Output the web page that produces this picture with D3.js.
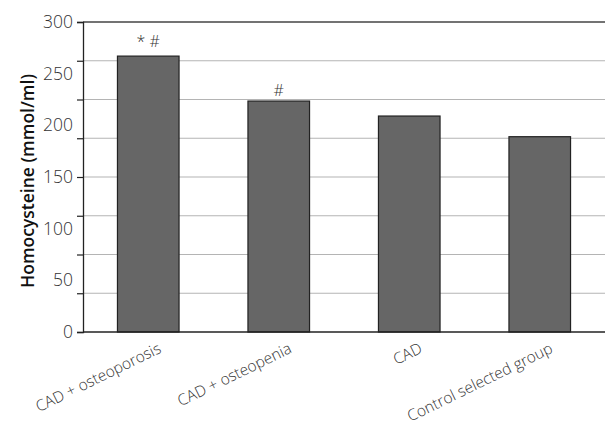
<!DOCTYPE html>
<html>
<head>
<meta charset="utf-8">
<script src="https://cdn.jsdelivr.net/npm/d3@7"></script>
<style>
  html, body { margin: 0; padding: 0; background: #fff; }
  svg { display: block; font-family: "Open Sans", "Noto Sans", sans-serif; }
</style>
</head>
<body>
<svg id="chart" width="605" height="425"></svg>
<script>
// Group names, mean homocysteine and significance marks
const categories = ["CAD + osteoporosis", "CAD + osteopenia", "CAD", "Control selected group"];
const values = [267, 223.5, 209, 189];
const marks = ["* #", "#", "", ""];
// Axis labels and the finer grid steps
const tickLabels = [0, 50, 100, 150, 200, 250, 300];
const gridValues = [0, 37.5, 75, 112.5, 150, 187.5, 225, 262.5, 300];

const svg = d3.select("#chart");
const margin = { top: 22, right: 0, bottom: 93, left: 83 };
const W = 605, H = 425;

const x = d3.scaleBand()
  .domain(categories)
  .range([margin.left, W - margin.right])
  .paddingInner(0.528)
  .paddingOuter(0.264);

const y = d3.scaleLinear()
  .domain([0, 300])
  .range([H - margin.bottom, margin.top]);

// horizontal grid
svg.append("g")
  .selectAll("line")
  .data(gridValues.filter(v => v > 0 && v < 300))
  .join("line")
  .attr("x1", margin.left).attr("x2", W)
  .attr("y1", d => y(d)).attr("y2", d => y(d))
  .attr("stroke", "#b4b4b4").attr("stroke-width", 1.2);

// top frame line
svg.append("line")
  .attr("x1", margin.left).attr("x2", W)
  .attr("y1", y(300)).attr("y2", y(300))
  .attr("stroke", "#444").attr("stroke-width", 1.3);

// bars
svg.append("g")
  .selectAll("rect")
  .data(values)
  .join("rect")
  .attr("x", (d, i) => x(categories[i]))
  .attr("y", d => y(d))
  .attr("width", x.bandwidth())
  .attr("height", d => y(0) - y(d))
  .attr("fill", "#666666")
  .attr("stroke", "#222")
  .attr("stroke-width", 1.2);

// significance marks
svg.append("g")
  .selectAll("text")
  .data(marks)
  .join("text")
  .attr("x", (d, i) => x(categories[i]) + x.bandwidth() / 2)
  .attr("y", (d, i) => y(values[i]) - (i === 0 ? 9 : 5))
  .attr("text-anchor", "middle")
  .attr("font-size", 16)
  .attr("font-weight", 300)
  .attr("fill", "#333")
  .text(d => d);

// y axis: tick marks on the grid steps
const yTicks = svg.append("g")
  .attr("transform", `translate(${margin.left},0)`)
  .call(d3.axisLeft(y).tickValues(gridValues).tickSize(6).tickFormat(""));
yTicks.select(".domain").attr("stroke", "#222").attr("stroke-width", 1.3);
yTicks.selectAll(".tick line").attr("stroke", "#222").attr("stroke-width", 1.2);

// y axis: value labels
const yLabels = svg.append("g")
  .attr("transform", `translate(${margin.left},0)`)
  .call(d3.axisLeft(y).tickValues(tickLabels).tickSize(0).tickPadding(10));
yLabels.select(".domain").remove();
yLabels.selectAll("text")
  .attr("font-family", "'Open Sans', sans-serif")
  .attr("font-size", 17.5)
  .attr("font-weight", 300)
  .attr("fill", "#333");

// baseline
svg.append("line")
  .attr("x1", margin.left).attr("x2", W)
  .attr("y1", y(0)).attr("y2", y(0))
  .attr("stroke", "#222").attr("stroke-width", 1.5);

// rotated category labels
svg.append("g")
  .selectAll("text")
  .data(categories)
  .join("text")
  .attr("transform", d => `translate(${x(d) + x.bandwidth() / 2 + 14},${y(0) + 20}) rotate(-26)`)
  .attr("text-anchor", "end")
  .attr("font-size", 15.5)
  .attr("font-weight", 300)
  .attr("fill", "#333")
  .text(d => d);

// y axis title
svg.append("text")
  .attr("transform", `translate(34,${(y(0) + y(300)) / 2 + 4}) rotate(-90)`)
  .attr("text-anchor", "middle")
  .attr("font-size", 17.5)
  .attr("font-weight", 600)
  .attr("fill", "#111")
  .text("Homocysteine (mmol/ml)");
</script>
</body>
</html>
